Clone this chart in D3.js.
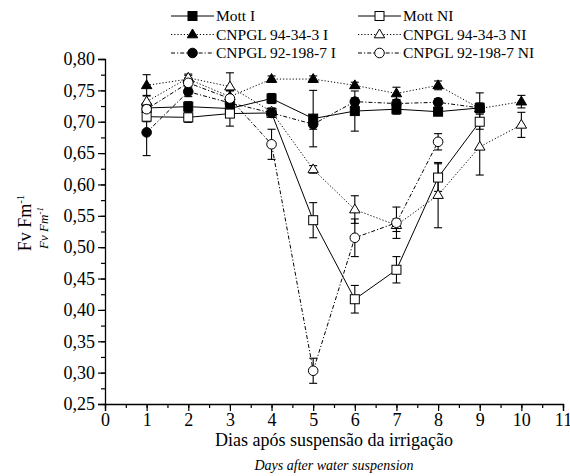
<!DOCTYPE html>
<html><head><meta charset="utf-8">
<script src="https://cdn.jsdelivr.net/npm/d3@7"></script>
<style>body{margin:0;background:#fff}svg{display:block}text{font-family:"Liberation Serif","Times New Roman",serif;fill:#000}</style>
</head><body><svg id="c" width="570" height="476"></svg>
<script>
const days = [1,2,3,4,5,6,7,8,9,10];
const yTicks = [0.25,0.30,0.35,0.40,0.45,0.50,0.55,0.60,0.65,0.70,0.75,0.80];
const xTicks = [0,1,2,3,4,5,6,7,8,9,10,11];

const mottI      = [0.722,0.724,0.721,0.737,0.705,0.717,0.720,0.716,0.722];
const mottIErr   = [0.008,0.008,0.010,0.008,0.045,0.032,0.008,0.006,0.024];
const mottNI     = [0.708,0.707,0.713,0.714,0.543,0.417,0.464,0.611,0.700];
const mottNIErr  = [0.008,0.008,0.020,0.006,0.028,0.022,0.021,0.022,0.012];
const c94I       = [0.758,0.768,0.740,0.768,0.768,0.758,0.745,0.758,0.721,0.732];
const c94IErr    = [0.017,0.006,0.010,0.005,0.005,0.005,0.010,0.007,0.006,0.010];
const c94NI      = [0.732,0.770,0.756,0.716,0.624,0.560,0.535,0.583,0.660,0.695];
const c94NIErr   = [0.010,0.006,0.022,0.006,0.006,0.022,0.010,0.052,0.045,0.020];
const c92I       = [0.683,0.748,0.730,0.714,0.696,0.732,0.729,0.731,0.722];
const c92IErr    = [0.037,0.008,0.010,0.006,0.008,0.006,0.006,0.006,0.008];
const c92NI      = [0.720,0.762,0.737,0.664,0.303,0.515,0.539,0.668];
const c92NIErr   = [0.010,0.008,0.012,0.024,0.020,0.030,0.025,0.013];

const seriesNames = ["Mott I","Mott NI","CNPGL 94-34-3 I","CNPGL 94-34-3 NI","CNPGL 92-198-7 I","CNPGL 92-198-7 NI"];

const series = [
  {name:seriesNames[0], v:mottI,  e:mottIErr,  shape:"square",  fill:true,  dash:null},
  {name:seriesNames[1], v:mottNI, e:mottNIErr, shape:"square",  fill:false, dash:null},
  {name:seriesNames[2], v:c94I,   e:c94IErr,   shape:"triangle",fill:true,  dash:"1.2,2"},
  {name:seriesNames[3], v:c94NI,  e:c94NIErr,  shape:"triangle",fill:false, dash:"1.2,2"},
  {name:seriesNames[4], v:c92I,   e:c92IErr,   shape:"circle",  fill:true,  dash:"4,2,1.2,2"},
  {name:seriesNames[5], v:c92NI,  e:c92NIErr,  shape:"circle",  fill:false, dash:"4,2,1.2,2"}
];

const SERIF = "Liberation Serif, Times New Roman, serif";
const svg = d3.select("#c");
const x = d3.scaleLinear().domain([0,11]).range([105,563]);
const y = d3.scaleLinear().domain([0.25,0.80]).range([404,59]);
const fmt = d => d3.format(".2f")(d).replace(".", ",");

// axes
const gx = svg.append("g").attr("transform","translate(0,404)");
gx.append("g").call(d3.axisBottom(x).tickValues(d3.range(0,11.01,0.5)).tickSize(4).tickFormat(""))
  .call(g=>g.select(".domain").remove());
gx.append("g")
  .call(d3.axisBottom(x).tickValues(xTicks).tickSize(7).tickPadding(2).tickFormat(d3.format("d")))
  .call(g=>g.attr("font-family",SERIF).attr("font-size",18));
const gy = svg.append("g").attr("transform","translate(105,0)");
gy.append("g").call(d3.axisLeft(y).tickValues(d3.range(0.25,0.8001,0.025)).tickSize(4).tickFormat(""))
  .call(g=>g.select(".domain").remove());
gy.append("g")
  .call(d3.axisLeft(y).tickValues(yTicks).tickSize(7).tickPadding(3).tickFormat(fmt))
  .call(g=>g.attr("font-family",SERIF).attr("font-size",18));
svg.selectAll(".domain").attr("stroke-width",1.3);
svg.selectAll(".tick line").attr("stroke-width",1.2);

// axis titles
svg.append("text").attr("x",334).attr("y",446).attr("text-anchor","middle").style("font-size","18px").text("Dias após suspensão da irrigação");
svg.append("text").attr("x",334).attr("y",470).attr("text-anchor","middle").style("font-size","14px").style("font-style","italic").text("Days after water suspension");
const yt = svg.append("text").attr("transform","translate(31,223) rotate(-90)").attr("text-anchor","middle").style("font-size","18px");
yt.append("tspan").text("Fv Fm");
yt.append("tspan").attr("dy","-7").style("font-size","11px").text("-1");
const yt2 = svg.append("text").attr("transform","translate(48,228) rotate(-90)").attr("text-anchor","middle").style("font-size","13px").style("font-style","italic");
yt2.append("tspan").text("Fv Fm");
yt2.append("tspan").attr("dy","-5").style("font-size","9px").text("-1");

function marker(g, s, cx, cy) {
  const fill = s.fill ? "#000" : "#fff";
  if (s.shape==="square") {
    g.append("rect").attr("x",cx-4.5).attr("y",cy-4.5).attr("width",9).attr("height",9)
      .attr("fill",fill).attr("stroke","#000").attr("stroke-width",1);
  } else if (s.shape==="triangle") {
    const r=5.5;
    g.append("path").attr("d",`M${cx},${cy-r} L${cx+r*0.95},${cy+r*0.6} L${cx-r*0.95},${cy+r*0.6} Z`)
      .attr("fill",fill).attr("stroke","#000").attr("stroke-width",1);
  } else {
    g.append("circle").attr("cx",cx).attr("cy",cy).attr("r",4.8)
      .attr("fill",fill).attr("stroke","#000").attr("stroke-width",1);
  }
}

const plot = svg.append("g");
const line = d3.line().x(d=>x(d.d)).y(d=>y(d.v));
series.forEach(s => {
  const pts = s.v.map((v,i)=>({d:days[i], v, e:s.e[i]}));
  plot.append("path").datum(pts).attr("d",line).attr("fill","none").attr("stroke","#000")
    .attr("stroke-width",1).attr("stroke-dasharray",s.dash);
  pts.forEach(p => {
    const g = plot.append("g").attr("stroke","#000").attr("stroke-width",1.1);
    g.append("line").attr("x1",x(p.d)).attr("x2",x(p.d)).attr("y1",y(p.v+p.e)).attr("y2",y(p.v-p.e));
    g.append("line").attr("x1",x(p.d)-4).attr("x2",x(p.d)+4).attr("y1",y(p.v+p.e)).attr("y2",y(p.v+p.e));
    g.append("line").attr("x1",x(p.d)-4).attr("x2",x(p.d)+4).attr("y1",y(p.v-p.e)).attr("y2",y(p.v-p.e));
  });
});
series.forEach(s => {
  s.v.forEach((v,i)=>marker(plot, s, x(days[i]), y(v)));
});

// legend
const leg = svg.append("g");
series.forEach((s,i) => {
  const col = i%2, row = Math.floor(i/2);
  const lx = col===0 ? 171 : 358, ly = 16 + row*18.5;
  leg.append("line").attr("x1",lx).attr("x2",lx+43).attr("y1",ly).attr("y2",ly)
    .attr("stroke","#000").attr("stroke-width",1).attr("stroke-dasharray",s.dash);
  marker(leg, s, lx+21.5, ly);
  leg.append("text").attr("x",lx+45).attr("y",ly+5).style("font-size","15.5px").text(s.name);
});
</script></body></html>
